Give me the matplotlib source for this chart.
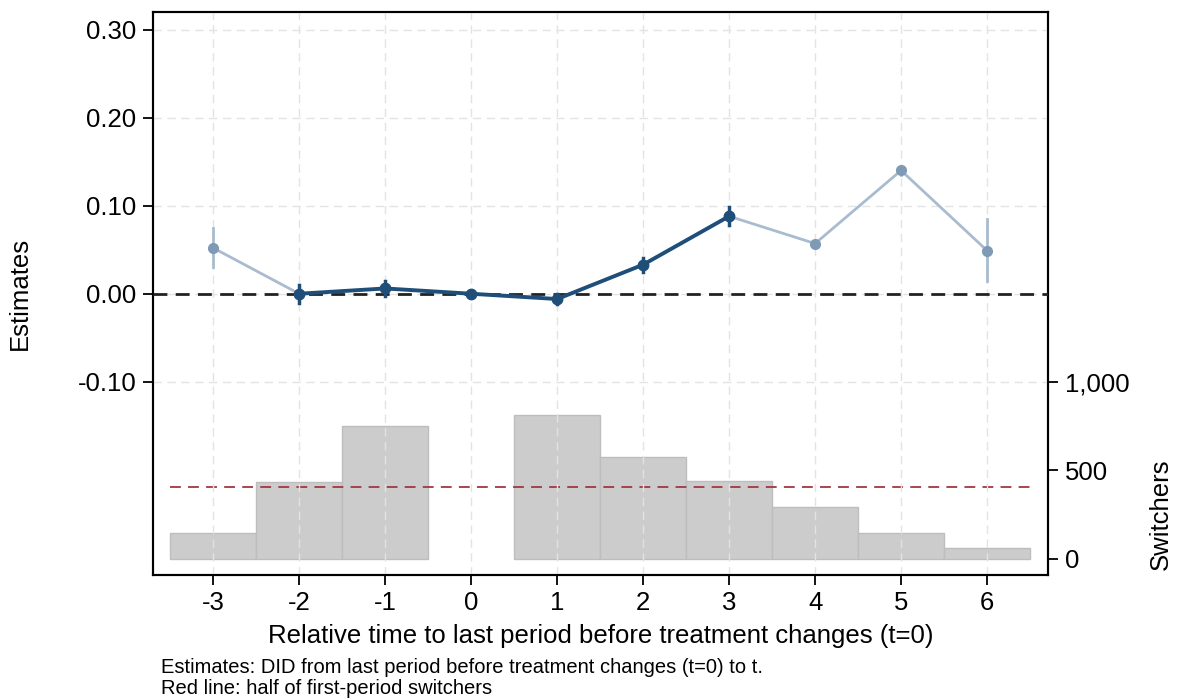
import numpy as np
import matplotlib.pyplot as plt
from matplotlib.ticker import FuncFormatter

plt.rcParams['font.family'] = ['Liberation Sans', 'DejaVu Sans']
plt.rcParams['axes.unicode_minus'] = False

# event-study estimates
periods = [-3, -2, -1, 0, 1, 2, 3, 4, 5, 6]
estimates = [0.052, 0.000, 0.006, 0.000, -0.006, 0.033, 0.088, 0.057, 0.140, 0.049]
ci_low = [0.030, -0.011, -0.002, 0.000, -0.012, 0.025, 0.078, 0.053, 0.135, 0.015]
ci_high = [0.075, 0.010, 0.014, 0.000, 0.000, 0.041, 0.098, 0.061, 0.145, 0.085]

# number of switchers per period
switchers = [147, 435, 751, 0, 813, 576, 440, 294, 147, 62]
half_first = 407

dark_periods = [-2, -1, 0, 1, 2, 3]

dark_col = "#1f4e79"
light_col = "#a9bccf"
light_pt = "#7f9ab5"

fig = plt.figure(figsize=(11.77, 7.0), dpi=100)
ax = fig.add_axes([0.13, 0.179, 0.7605, 0.804])
ax2 = ax.twinx()

# bars on the right axis (skip empty periods)
bar_x = [p for p, s in zip(periods, switchers) if s > 0]
bar_h = [s for s in switchers if s > 0]
ax2.bar(bar_x, bar_h, width=1.0, color="#cccccc", edgecolor="#bdbdbd", linewidth=1.0, zorder=1)
ax2.plot([-3.5, 6.5], [half_first, half_first], color="#a0383e", linestyle=(0, (6, 4)), linewidth=1.3, zorder=2)
ax2.set_ylim(-90, 3090)
ax2.set_yticks([0, 500, 1000])
ax2.yaxis.set_major_formatter(FuncFormatter(lambda v, p: "{:,.0f}".format(v)))
ax2.set_ylabel("Switchers", fontsize=18.5)
ax2.yaxis.set_label_coords(1.112, 0.107)

ax.set_zorder(ax2.get_zorder() + 1)
ax.patch.set_visible(False)

est = dict(zip(periods, estimates))
lo = dict(zip(periods, ci_low))
hi = dict(zip(periods, ci_high))

# light segments (outside dark window)
ax.plot([-3, -2], [est[-3], est[-2]], color=light_col, linewidth=2, zorder=3)
ax.plot([3, 4, 5, 6], [est[3], est[4], est[5], est[6]], color=light_col, linewidth=2, zorder=3)
for p in [-3, 4, 5, 6]:
    ax.plot([p, p], [lo[p], hi[p]], color=light_col, linewidth=2, zorder=3)
    ax.plot(p, est[p], "o", color=light_pt, markersize=7, zorder=4)

ax.axhline(0, color="#222222", linestyle=(0, (5, 3)), linewidth=2, zorder=3)

ax.plot(dark_periods, [est[p] for p in dark_periods], color=dark_col, linewidth=2.8, zorder=5)
for p in dark_periods:
    ax.plot([p, p], [lo[p], hi[p]], color=dark_col, linewidth=2.5, zorder=5)
    ax.plot(p, est[p], "o", color=dark_col, markersize=7.5, zorder=6)

ax.set_xlim(-3.7, 6.71)
ax.set_ylim(-0.319, 0.32)
ax.set_xticks(periods)
ax.set_yticks([-0.10, 0.00, 0.10, 0.20, 0.30])
ax.yaxis.set_major_formatter(FuncFormatter(lambda v, p: "{:.2f}".format(v)))
ax.grid(True, color="#e3e3e3", linestyle=(0, (6, 4)), linewidth=1)
ax.set_axisbelow(True)

for a in (ax, ax2):
    a.tick_params(labelsize=18.5, length=7, width=1.3, direction="out", color="black", pad=5)
    for s in a.spines.values():
        s.set_linewidth(1.5)
        s.set_color("black")

ax.set_xlabel("Relative time to last period before treatment changes (t=0)", fontsize=18.5, labelpad=6)
ax.set_ylabel("Estimates", fontsize=18.5)
ax.yaxis.set_label_coords(-0.135, 0.5)

fig.text(0.137, 0.046, "Estimates: DID from last period before treatment changes (t=0) to t.", fontsize=14.5, va="center")
fig.text(0.137, 0.016, "Red line: half of first-period switchers", fontsize=14.5, va="center")

fig.savefig("out.png", dpi=100)
